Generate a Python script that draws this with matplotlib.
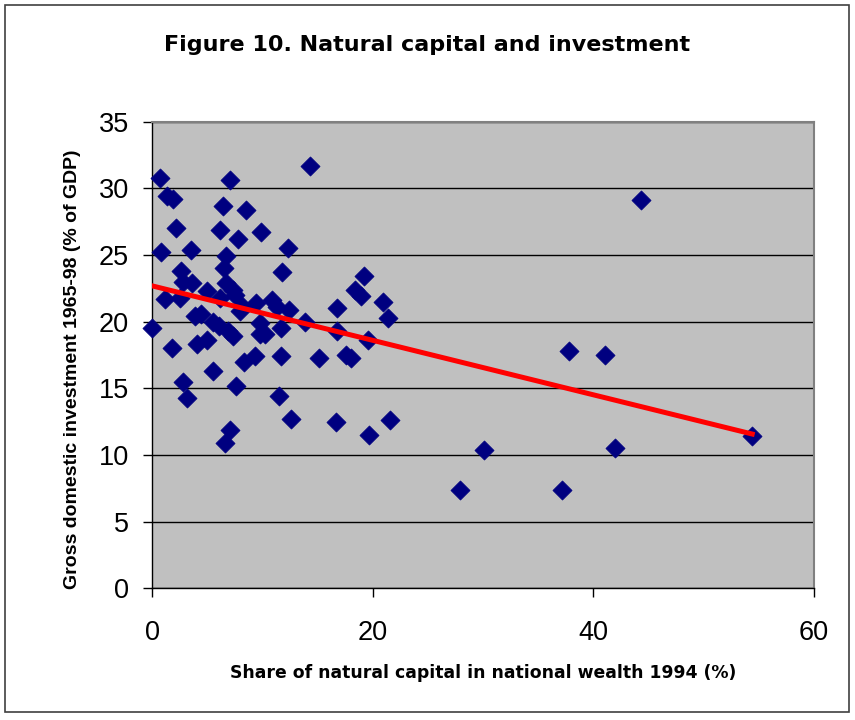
# Figure 10: natural capital share vs gross domestic investment, with linear trend
import numpy as np
import matplotlib
matplotlib.use("Agg")
import matplotlib.pyplot as plt
from matplotlib.patches import Rectangle

plt.rcParams['font.family'] = ['Liberation Sans', 'DejaVu Sans']

# share of natural capital in national wealth 1994 (%)
natural_share = [0.7, 1.4, 1.9, 7.1, 14.3, 6.4, 8.5, 2.2, 6.2, 7.8,
                 9.9, 0.8, 3.5, 12.3, 6.7, 6.5, 2.6, 11.8, 19.2, 2.8,
                 3.6, 6.7, 7.3, 5.0, 18.4, 18.9, 20.9, 21.4, 1.2, 2.5,
                 6.2, 7.5, 8.2, 9.4, 10.9, 11.3, 12.4, 8.0, 4.4, 3.9,
                 5.5, 6.1, 6.9, 7.3, 9.8, 9.8, 10.2, 11.7, 13.9, 16.8,
                 16.8, 19.6, 0.0, 1.8, 4.1, 5.0, 8.3, 9.3, 11.7, 15.1,
                 17.6, 18.0, 5.5, 2.8, 7.6, 3.2, 11.5, 12.6, 16.7, 21.6,
                 19.7, 7.1, 6.6, 44.3, 37.8, 41.1, 54.4, 30.1, 42.0, 27.9,
                 37.2]
# gross domestic investment 1965-98 (% of GDP)
investment = [30.8, 29.4, 29.2, 30.6, 31.7, 28.7, 28.4, 27.0, 26.9, 26.2,
              26.7, 25.2, 25.4, 25.5, 24.9, 24.0, 23.8, 23.7, 23.4, 23.0,
              22.9, 22.9, 22.4, 22.3, 22.4, 21.9, 21.5, 20.3, 21.7, 21.8,
              21.8, 22.0, 21.2, 21.4, 21.6, 21.1, 20.9, 20.8, 20.6, 20.4,
              20.0, 19.7, 19.3, 18.9, 19.9, 19.1, 19.1, 19.5, 20.0, 21.0,
              19.3, 18.6, 19.5, 18.0, 18.3, 18.6, 17.0, 17.4, 17.4, 17.3,
              17.5, 17.3, 16.3, 15.5, 15.2, 14.3, 14.4, 12.7, 12.5, 12.6,
              11.5, 11.9, 10.9, 29.1, 17.8, 17.5, 11.4, 10.4, 10.5, 7.4,
              7.4]

x_ticks = [0, 20, 40, 60]
y_ticks = [0, 5, 10, 15, 20, 25, 30, 35]

x = np.array(natural_share)
y = np.array(investment)
slope, intercept = np.polyfit(x, y, 1)

fig = plt.figure(figsize=(8.55, 7.2), dpi=100)
fig.patches.append(Rectangle((5 / 855, 8 / 720), 844 / 855, 707 / 720,
                             transform=fig.transFigure, fill=False,
                             edgecolor='#404040', linewidth=1.2))

ax = fig.add_axes([152 / 855, 131.7 / 720, 662 / 855, 466.6 / 720])
ax.set_facecolor('#C0C0C0')
ax.set_xlim(0, 60)
ax.set_ylim(0, 35)
ax.set_xticks(x_ticks)
ax.set_yticks(y_ticks)
ax.yaxis.grid(True, color='black', linewidth=1.0)
ax.set_axisbelow(True)

for side in ['top', 'right']:
    ax.spines[side].set_color('#808080')
    ax.spines[side].set_linewidth(1.5)
for side in ['left', 'bottom']:
    ax.spines[side].set_color('black')
    ax.spines[side].set_linewidth(1.0)

ax.tick_params(axis='both', direction='out', length=6.5, width=1.0,
               labelsize=19.5, colors='black')
ax.tick_params(axis='x', pad=16)
ax.tick_params(axis='y', pad=10)

ax.scatter(x, y, marker='D', s=95, color='#000080', edgecolors='#000080',
           linewidths=0.5, zorder=3, clip_on=False)
xs = np.array([0, x.max()])
ax.plot(xs, intercept + slope * xs, color='#FF0000', linewidth=3.6, zorder=4)

ax.set_xlabel('Share of natural capital in national wealth 1994 (%)',
              fontsize=12.4, fontweight='bold', family=['DejaVu Sans'])
ax.xaxis.set_label_coords(0.5, -0.162)
ax.set_ylabel('Gross domestic investment 1965-98 (% of GDP)',
              fontsize=14, fontweight='bold')
ax.yaxis.set_label_coords(-0.107, 0.47)

fig.text(0.5, 1 - 45 / 720, 'Figure 10. Natural capital and investment',
         ha='center', va='center', fontsize=16, fontweight='bold',
         family=['DejaVu Sans'])

fig.savefig('out.png', dpi=100)
